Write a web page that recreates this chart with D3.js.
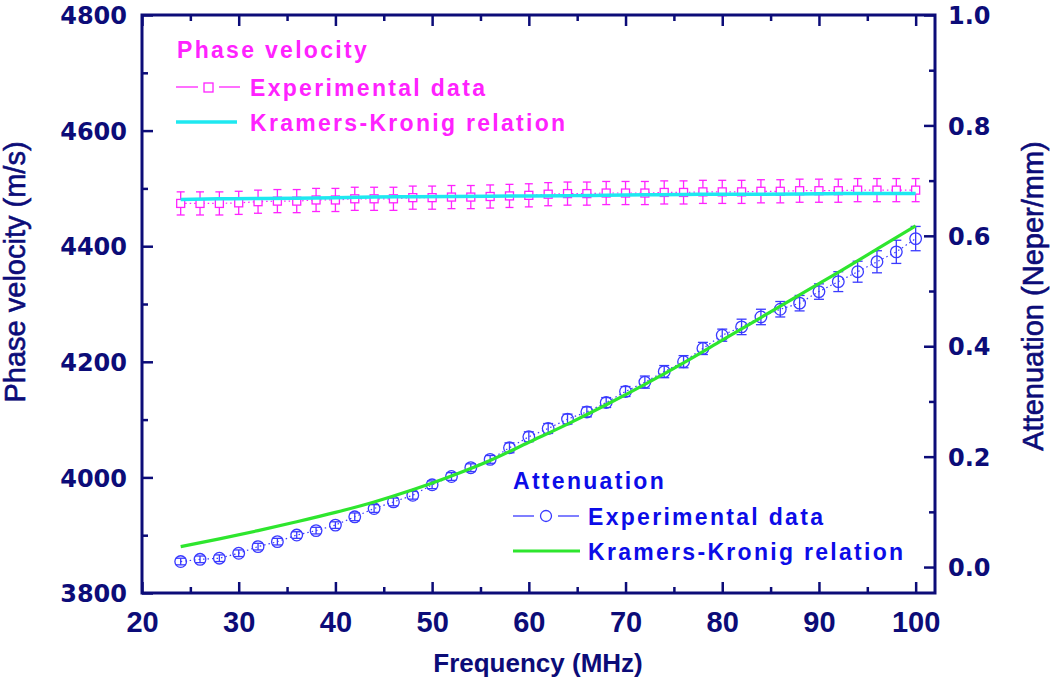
<!DOCTYPE html>
<html><head><meta charset="utf-8">
<script src="https://cdn.jsdelivr.net/npm/d3@7"></script>
<style>body{margin:0;background:#fff}</style>
</head><body><svg id="c" width="1050" height="679"></svg>
<script>
// ---------- data ----------
const freq = [24,26,28,30,32,34,36,38,40,42,44,46,48,50,52,54,56,58,60,62,64,66,68,70,72,74,76,78,80,82,84,86,88,90,92,94,96,98,100];
const phaseExp = [4474,4474,4474,4475,4477,4478,4478,4480,4480,4482,4482,4482,4484,4484,4485,4485,4486,4487,4488,4490,4491,4491,4492,4492,4492,4493,4493,4494,4494,4494,4495,4495,4496,4496,4496,4497,4497,4497,4497];
const phaseErr = [20,20,20,20,20,20,20,20,20,20,20,20,20,20,20,20,20,20,20,20,20,20,20,20,20,20,20,20,20,20,20,20,20,20,20,20,20,20,20];
const attenExp = [0.010,0.014,0.016,0.025,0.037,0.046,0.058,0.066,0.076,0.091,0.106,0.118,0.130,0.149,0.164,0.180,0.195,0.216,0.236,0.251,0.268,0.281,0.298,0.318,0.335,0.354,0.372,0.396,0.420,0.435,0.453,0.467,0.478,0.499,0.517,0.535,0.553,0.571,0.595];
const attenErr = [0.006,0.006,0.006,0.006,0.006,0.006,0.006,0.006,0.006,0.007,0.007,0.007,0.007,0.007,0.007,0.007,0.007,0.009,0.009,0.009,0.009,0.009,0.009,0.009,0.011,0.011,0.011,0.011,0.011,0.014,0.014,0.014,0.014,0.014,0.018,0.019,0.020,0.021,0.022];
const kkFreq = [24,28,32,36,40,44,48,52,56,60,64,68,72,76,80,84,88,92,96,100];
const kkPhase = [4481,4482,4482.5,4483,4484,4485,4485.5,4486,4486.5,4487,4487.5,4488,4489,4489.5,4490,4490,4490.5,4491,4491,4491];
const kkAtten = [0.037,0.051,0.066,0.082,0.099,0.118,0.140,0.165,0.193,0.226,0.259,0.294,0.331,0.370,0.411,0.452,0.493,0.534,0.576,0.618];
const xTicks = [20,30,40,50,60,70,80,90,100];
const xMinor = [25,35,45,55,65,75,85,95];
const yLTicks = [3800,4000,4200,4400,4600,4800];
const yLMinor = [3900,4100,4300,4500,4700];
const yRTicks = [0.0,0.2,0.4,0.6,0.8,1.0];
const yRMinor = [0.1,0.3,0.5,0.7,0.9];

// ---------- setup ----------
const svg = d3.select("#c");
const L = 142, R = 935, T = 15, B = 593;
const x = d3.scaleLinear().domain([20,102]).range([L,R]);
const yL = d3.scaleLinear().domain([3800,4800]).range([B,T]);
const yR = d3.scaleLinear().domain([-0.047,1.0]).range([B,T]);
const navy = "#0c0c78", magenta = "#ff22ff", cyan = "#1ee8f0", blue = "#3a3aff", green = "#2ee62e", blueText = "#0c0ce8";

function styleAxis(g, tickW) {
  g.select(".domain").remove();
  g.selectAll(".tick line").attr("stroke", navy).attr("stroke-width", tickW);
}
// bottom
const gb = svg.append("g").attr("transform", `translate(0,${B})`)
  .call(d3.axisBottom(x).tickValues(xTicks).tickSize(-11).tickFormat(d3.format("d")));
styleAxis(gb, 2.5);
gb.selectAll("text").attr("dy", null).attr("y", 39).attr("fill", navy)
  .style("font-family", "Liberation Sans, Arial, sans-serif").style("font-weight", "bold").style("font-size", "29px");
const gbm = svg.append("g").attr("transform", `translate(0,${B})`)
  .call(d3.axisBottom(x).tickValues(xMinor).tickSize(-6).tickFormat(""));
styleAxis(gbm, 2.5);
// top
const gt = svg.append("g").attr("transform", `translate(0,${T})`)
  .call(d3.axisTop(x).tickValues(xTicks).tickSize(-11).tickFormat(""));
styleAxis(gt, 2.5);
const gtm = svg.append("g").attr("transform", `translate(0,${T})`)
  .call(d3.axisTop(x).tickValues(xMinor).tickSize(-6).tickFormat(""));
styleAxis(gtm, 2.5);
// left
const gl = svg.append("g").attr("transform", `translate(${L},0)`)
  .call(d3.axisLeft(yL).tickValues(yLTicks).tickSize(-11).tickFormat(d3.format("d")));
styleAxis(gl, 2.5);
gl.selectAll("text").attr("x", -15).attr("dy", "0.36em").attr("fill", navy)
  .style("font-family", "DejaVu Sans, sans-serif").style("font-weight", "bold").style("font-size", "24px");
const glm = svg.append("g").attr("transform", `translate(${L},0)`)
  .call(d3.axisLeft(yL).tickValues(yLMinor).tickSize(-6).tickFormat(""));
styleAxis(glm, 2.5);
// right
const gr = svg.append("g").attr("transform", `translate(${R},0)`)
  .call(d3.axisRight(yR).tickValues(yRTicks).tickSize(-11).tickFormat(d3.format(".1f")));
styleAxis(gr, 2.5);
gr.selectAll("text").attr("x", 13).attr("dy", "0.36em").attr("fill", navy)
  .style("font-family", "DejaVu Sans, sans-serif").style("font-weight", "bold").style("font-size", "24px");
const grm = svg.append("g").attr("transform", `translate(${R},0)`)
  .call(d3.axisRight(yR).tickValues(yRMinor).tickSize(-6).tickFormat(""));
styleAxis(grm, 2.5);
// frame
svg.append("rect").attr("x", L).attr("y", T).attr("width", R - L).attr("height", B - T)
  .attr("fill", "none").attr("stroke", navy).attr("stroke-width", 3);

// axis titles
const titleFont = "Liberation Sans, Arial, sans-serif";
svg.append("text").attr("x", 538).attr("y", 672).attr("text-anchor", "middle").attr("fill", navy)
  .style("font-family", titleFont).style("font-weight", "bold").style("font-size", "26px").text("Frequency (MHz)");
svg.append("text").attr("transform", "translate(25,272) rotate(-90)").attr("text-anchor", "middle").attr("fill", navy)
  .attr("stroke", navy).attr("stroke-width", 0.6)
  .style("font-family", titleFont).style("font-size", "29px").text("Phase velocity (m/s)");
svg.append("text").attr("transform", "translate(1043,296) rotate(-90)").attr("text-anchor", "middle").attr("fill", navy)
  .attr("stroke", navy).attr("stroke-width", 0.6)
  .style("font-family", titleFont).style("font-size", "29px").text("Attenuation (Neper/mm)");

// ---------- phase velocity ----------
const phase = freq.map((f, i) => ({f, v: phaseExp[i], e: phaseErr[i]}));
svg.append("path").datum(phase).attr("fill", "none").attr("stroke", magenta).attr("stroke-width", 1.2)
  .attr("stroke-dasharray", "1.5,3")
  .attr("d", d3.line().x(d => x(d.f)).y(d => yL(d.v)));
const pe = svg.append("g").attr("stroke", magenta).attr("stroke-width", 1.3).attr("fill", "none");
phase.forEach(d => {
  const cx = x(d.f), y1 = yL(d.v + d.e), y0 = yL(d.v - d.e);
  pe.append("line").attr("x1", cx).attr("x2", cx).attr("y1", y1).attr("y2", y0);
  pe.append("line").attr("x1", cx - 4).attr("x2", cx + 4).attr("y1", y1).attr("y2", y1);
  pe.append("line").attr("x1", cx - 4).attr("x2", cx + 4).attr("y1", y0).attr("y2", y0);
});
svg.append("g").selectAll("rect").data(phase).join("rect")
  .attr("x", d => x(d.f) - 4).attr("y", d => yL(d.v) - 4).attr("width", 8).attr("height", 8)
  .attr("fill", "#fff").attr("stroke", magenta).attr("stroke-width", 1.3);
const kkP = kkFreq.map((f, i) => ({f, v: kkPhase[i]}));
svg.append("path").datum(kkP).attr("fill", "none").attr("stroke", cyan).attr("stroke-width", 3.5)
  .attr("d", d3.line().curve(d3.curveMonotoneX).x(d => x(d.f)).y(d => yL(d.v)));

// ---------- attenuation ----------
const att = freq.map((f, i) => ({f, v: attenExp[i], e: attenErr[i]}));
svg.append("path").datum(att).attr("fill", "none").attr("stroke", blue).attr("stroke-width", 1.2)
  .attr("stroke-dasharray", "1.5,3")
  .attr("d", d3.line().x(d => x(d.f)).y(d => yR(d.v)));
const ae = svg.append("g").attr("stroke", blue).attr("stroke-width", 1.3).attr("fill", "none");
att.forEach(d => {
  const cx = x(d.f), y1 = yR(d.v + d.e), y0 = yR(d.v - d.e);
  ae.append("line").attr("x1", cx).attr("x2", cx).attr("y1", y1).attr("y2", y0);
  ae.append("line").attr("x1", cx - 5).attr("x2", cx + 5).attr("y1", y1).attr("y2", y1);
  ae.append("line").attr("x1", cx - 5).attr("x2", cx + 5).attr("y1", y0).attr("y2", y0);
});
svg.append("g").selectAll("circle").data(att).join("circle")
  .attr("cx", d => x(d.f)).attr("cy", d => yR(d.v)).attr("r", 5.8)
  .attr("fill", "none").attr("stroke", blue).attr("stroke-width", 1.3);
const kkA = kkFreq.map((f, i) => ({f, v: kkAtten[i]}));
svg.append("path").datum(kkA).attr("fill", "none").attr("stroke", green).attr("stroke-width", 3.2)
  .attr("d", d3.line().curve(d3.curveMonotoneX).x(d => x(d.f)).y(d => yR(d.v)));

// ---------- legends ----------
const legFont = "Liberation Sans, Arial, sans-serif";
function legText(xp, yp, col, t) {
  svg.append("text").attr("x", xp).attr("y", yp).attr("fill", col)
    .style("font-family", legFont).style("font-weight", "bold").style("font-size", "23px")
    .style("letter-spacing", "2.3px").text(t);
}
legText(177, 58, magenta, "Phase velocity");
svg.append("line").attr("x1", 176).attr("x2", 198).attr("y1", 87).attr("y2", 87).attr("stroke", magenta).attr("stroke-width", 1.3);
svg.append("line").attr("x1", 219).attr("x2", 240).attr("y1", 87).attr("y2", 87).attr("stroke", magenta).attr("stroke-width", 1.3);
svg.append("rect").attr("x", 204).attr("y", 83).attr("width", 9).attr("height", 9).attr("fill", "#fff").attr("stroke", magenta).attr("stroke-width", 1.3);
legText(250, 96, magenta, "Experimental data");
svg.append("line").attr("x1", 176).attr("x2", 237).attr("y1", 122).attr("y2", 122).attr("stroke", cyan).attr("stroke-width", 3.5);
legText(250, 131, magenta, "Kramers-Kronig relation");

legText(513, 489, blueText, "Attenuation");
svg.append("line").attr("x1", 513).attr("x2", 534).attr("y1", 516).attr("y2", 516).attr("stroke", blue).attr("stroke-width", 1.3);
svg.append("line").attr("x1", 558).attr("x2", 579).attr("y1", 516).attr("y2", 516).attr("stroke", blue).attr("stroke-width", 1.3);
svg.append("circle").attr("cx", 546).attr("cy", 516).attr("r", 5.5).attr("fill", "none").attr("stroke", blue).attr("stroke-width", 1.3);
legText(588, 525, blueText, "Experimental data");
svg.append("line").attr("x1", 513).attr("x2", 580).attr("y1", 551).attr("y2", 551).attr("stroke", green).attr("stroke-width", 3.2);
legText(588, 560, blueText, "Kramers-Kronig relation");
</script></body></html>
